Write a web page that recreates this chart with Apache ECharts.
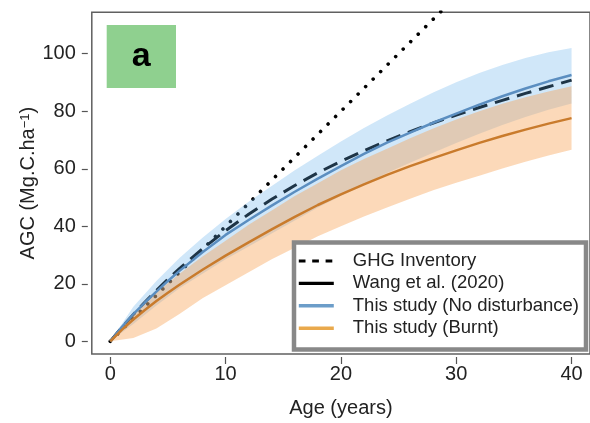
<!DOCTYPE html>
<html>
<head>
<meta charset="utf-8">
<script src="https://cdn.jsdelivr.net/npm/echarts@6/dist/echarts.min.js"></script>
<style>
  html, body { margin: 0; padding: 0; background: #ffffff; }
  #chart { width: 590px; height: 423px; }
</style>
</head>
<body>
<div id="chart"></div>
<script>
// Stand age (years) at which the growth curves are sampled
const ages = [0, 1, 2, 3, 4, 5, 6, 8, 10, 12, 14, 16, 18, 20, 22, 24, 26, 28, 30, 32, 34, 36, 38, 40];

// Mean aboveground carbon (Mg C / ha)
const noDisturbance = [0, 5, 9.5, 13.5, 17.3, 21, 24.5, 31, 37, 42.2, 47.2, 52, 56.6, 60.9, 65.2, 69.1, 72.6, 76, 79.2, 82.3, 85.2, 87.9, 90.4, 92.6];
const burnt = [0, 4, 7.6, 10.9, 14, 16.9, 19.7, 24.9, 29.8, 34.4, 38.9, 43.3, 47.4, 51.1, 54.6, 57.9, 60.9, 63.7, 66.4, 69, 71.4, 73.6, 75.7, 77.6];
const wang2020 = [0, 4.8, 9.3, 13.6, 17.7, 21.6, 25.3, 32.2, 38.5, 44.2, 49.4, 54.2, 58.6, 62.6, 66.3, 69.7, 72.9, 75.9, 78.7, 81.3, 83.8, 86.2, 88.5, 90.8];

// GHG inventory default growth
const ghgAges = [0, 10, 20, 30];
const ghgValues = [0, 40, 80, 120];

// Uncertainty envelopes (every two years)
const bandAges = [0, 2, 4, 6, 8, 10, 12, 14, 16, 18, 20, 22, 24, 26, 28, 30, 32, 34, 36, 38, 40];
const noDistLow = [0, 6, 12.5, 18.5, 23.5, 28.5, 33, 37.5, 42, 46.5, 50.5, 54.6, 58.5, 62.1, 65.6, 69, 72.2, 75.2, 78, 80.5, 82.7];
const noDistHigh = [0, 12, 21, 29, 36, 42.5, 48.5, 54, 59.5, 64.5, 69.5, 74.2, 78.5, 82.6, 86.5, 90.1, 93.3, 96.1, 98.5, 100.5, 102];
const burntLow = [0, 1.2, 4.5, 9.5, 15, 19.5, 24, 28.5, 32.5, 36.5, 40, 43.4, 46.5, 49.6, 52.5, 55.1, 57.6, 60.1, 62.4, 64.6, 66.6];
const burntHigh = [0, 9.5, 17, 23.5, 29.5, 35, 40.5, 45.5, 50.5, 55, 59.5, 63.4, 67, 70.6, 74, 77.1, 80, 82.6, 84.9, 86.9, 88.7];

// Axis ticks
const xTicks = [0, 10, 20, 30, 40];
const yTicks = [0, 20, 40, 60, 80, 100];

const NAME_GHG = 'GHG Inventory';
const NAME_WANG = 'Wang et al. (2020)';
const NAME_ND = 'This study (No disturbance)';
const NAME_BURNT = 'This study (Burnt)';

const FONT = '"Liberation Sans", Arial, Helvetica, sans-serif';

function pairs(xs, ys) {
  return xs.map((x, i) => [x, ys[i]]);
}

function band(name, xs, low, high, fill, z) {
  return {
    type: 'custom',
    name: name,
    z: z,
    silent: true,
    clip: true,
    data: [[xs[0], low[0]]],
    renderItem: function (params, api) {
      const pts = [];
      for (let i = 0; i < xs.length; i++) pts.push(api.coord([xs[i], high[i]]));
      for (let i = xs.length - 1; i >= 0; i--) pts.push(api.coord([xs[i], low[i]]));
      return { type: 'polygon', shape: { points: pts }, style: { fill: fill } };
    }
  };
}

const hidden = { opacity: 0 };

const chart = echarts.init(document.getElementById('chart'), null, { renderer: 'canvas' });

chart.setOption({
  animation: false,
  backgroundColor: '#ffffff',
  textStyle: { fontFamily: FONT },
  grid: {
    left: 91.8, top: 12.3, width: 504, height: 342,
    show: true, borderColor: '#606060', borderWidth: 1.5, backgroundColor: 'transparent'
  },
  xAxis: {
    type: 'value', min: -1.6, max: 41.6, offset: 3,
    name: 'Age (years)', nameLocation: 'middle', nameGap: 41, nameMoveOverlap: false,
    nameTextStyle: { fontSize: 20, color: '#222', fontFamily: FONT },
    axisLine: { show: false, onZero: false },
    axisTick: { show: true, length: 7, customValues: xTicks, lineStyle: { color: '#555', width: 1.2 } },
    axisLabel: { customValues: xTicks, margin: 7, fontSize: 20, color: '#222', fontFamily: FONT },
    splitLine: { show: false }
  },
  yAxis: {
    type: 'value', min: -4.4, max: 114.4, offset: 4,
    name: 'AGC (Mg.C.ha{s|\u22121})', nameLocation: 'middle', nameGap: 49, nameRotate: 90, nameMoveOverlap: false,
    nameTextStyle: {
      fontSize: 20, color: '#222', fontFamily: FONT,
      rich: {
        s: { fontSize: 13, color: '#222', fontFamily: FONT, verticalAlign: 'top', lineHeight: 12 }
      }
    },
    axisLine: { show: false, onZero: false },
    axisTick: { show: true, length: 6, customValues: yTicks, lineStyle: { color: '#555', width: 1.2 } },
    axisLabel: { customValues: yTicks, margin: 12, fontSize: 20, color: '#222', fontFamily: FONT },
    splitLine: { show: false }
  },
  legend: {
    orient: 'vertical', left: 292, top: 244.8, z: 20,
    selectedMode: false,
    itemWidth: 35, itemHeight: 14, itemGap: 0,
    itemStyle: hidden,
    textStyle: { fontSize: 18.5, color: '#222', fontFamily: FONT, lineHeight: 22.4, padding: [0, 0, 0, 14] },
    data: [
      { name: NAME_GHG, itemStyle: hidden, lineStyle: { color: '#000', width: 3.2, type: [6.7, 6.7], cap: 'butt' } },
      { name: NAME_WANG, itemStyle: hidden, lineStyle: { color: '#000', width: 3.2, type: 'solid', cap: 'butt' } },
      { name: NAME_ND, itemStyle: hidden, lineStyle: { color: '#6c9dc9', width: 3.6, type: 'solid', cap: 'butt' } },
      { name: NAME_BURNT, itemStyle: hidden, lineStyle: { color: '#e9a94c', width: 3.6, type: 'solid', cap: 'butt' } }
    ]
  },
  graphic: [
    {
      type: 'rect', z: 10,
      shape: { x: 294, y: 242.5, width: 292, height: 107 },
      style: { fill: '#ffffff', stroke: '#888888', lineWidth: 4.5 }
    },
    {
      type: 'rect', z: 10,
      shape: { x: 106.7, y: 25, width: 69.3, height: 63 },
      style: { fill: '#8fd08f' }
    },
    {
      type: 'text', z: 11, x: 141.3, y: 57,
      style: { text: 'a', fill: '#000', font: 'bold 34px ' + FONT, textAlign: 'center', textVerticalAlign: 'middle' }
    }
  ],
  series: [
    {
      name: NAME_GHG, type: 'line', z: 2, symbol: 'none', clip: true,
      data: pairs(ghgAges, ghgValues),
      itemStyle: { color: '#000' },
      lineStyle: { color: '#000', width: 3.6, type: [0.01, 10.6], cap: 'round' }
    },
    {
      name: NAME_WANG, type: 'line', z: 2, symbol: 'none',
      data: pairs(ages, wang2020),
      itemStyle: { color: '#000' },
      lineStyle: { color: '#000', width: 3, type: [15, 8], cap: 'butt' }
    },
    band('noDistBand', bandAges, noDistLow, noDistHigh, 'rgba(100,175,235,0.30)', 3),
    band('burntBand', bandAges, burntLow, burntHigh, 'rgba(247,160,80,0.40)', 4),
    {
      name: NAME_ND, type: 'line', z: 5, symbol: 'none',
      data: pairs(ages, noDisturbance),
      itemStyle: { color: '#5b8ec0' },
      lineStyle: { color: '#5b8ec0', width: 2.5 }
    },
    {
      name: NAME_BURNT, type: 'line', z: 6, symbol: 'none',
      data: pairs(ages, burnt),
      itemStyle: { color: '#c97b2c' },
      lineStyle: { color: '#c97b2c', width: 2.5 }
    }
  ]
});
</script>
</body>
</html>
